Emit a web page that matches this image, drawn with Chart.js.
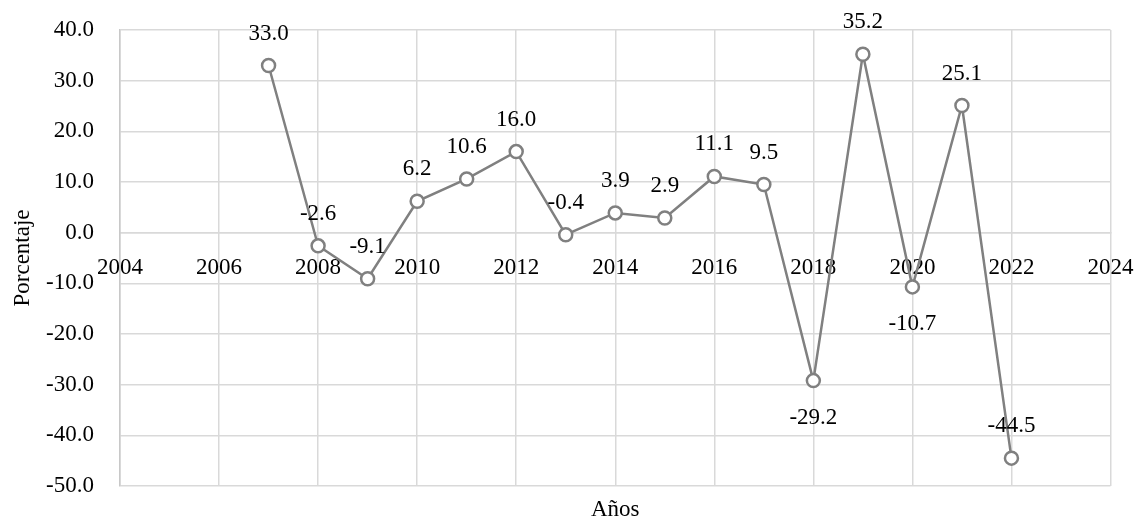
<!DOCTYPE html>
<html>
<head>
<meta charset="utf-8">
<script src="https://cdn.jsdelivr.net/npm/chart.js@4"></script>
<style>
  html, body { margin: 0; padding: 0; background: #fff; }
  #wrap { width: 1136px; height: 521px; }
</style>
</head>
<body>
<div id="wrap"><canvas id="growthChart" width="1136" height="521"></canvas></div>
<script>
// values
var years = [2007, 2008, 2009, 2010, 2011, 2012, 2013, 2014, 2015, 2016, 2017, 2018, 2019, 2020, 2021, 2022];
var values = [33.0, -2.6, -9.1, 6.2, 10.6, 16.0, -0.4, 3.9, 2.9, 11.1, 9.5, -29.2, 35.2, -10.7, 25.1, -44.5];
var labelsBelow = [2018, 2020]; // data labels drawn under the marker
var yTicks = { min: -50, max: 40, step: 10 };
var xTicks = { min: 2004, max: 2024, step: 2 };

var fontFamily = '"Liberation Serif", "Times New Roman", serif';
var gridColor = '#d9d9d9';
var lineColor = '#808080';

// draws the value above (or below) every point
var pointLabels = {
    id: 'pointLabels',
    afterDatasetsDraw: function (chart) {
        var ctx = chart.ctx;
        var meta = chart.getDatasetMeta(0);
        ctx.save();
        ctx.font = '23px ' + fontFamily;
        ctx.fillStyle = '#000';
        ctx.textAlign = 'center';
        ctx.textBaseline = 'middle';
        meta.data.forEach(function (pt, i) {
            var below = labelsBelow.indexOf(years[i]) >= 0;
            var y = below ? pt.y + 37 : pt.y - 32;
            ctx.fillText(values[i].toFixed(1), pt.x, y);
        });
        ctx.restore();
    }
};

var ctx = document.getElementById('growthChart').getContext('2d');
var growthChart = new Chart(ctx, {
    type: 'line',
    data: {
        datasets: [{
            data: years.map(function (y, i) { return { x: y, y: values[i] }; }),
            borderColor: lineColor,
            borderWidth: 2.5,
            pointRadius: 6.5,
            pointBorderWidth: 2.5,
            pointBackgroundColor: '#fff',
            pointBorderColor: lineColor,
            tension: 0
        }]
    },
    options: {
        responsive: false,
        animation: false,
        layout: { padding: { top: 30, right: 25.5, left: 0, bottom: 0 } },
        plugins: {
            legend: { display: false },
            tooltip: { enabled: false },
            title: {
                display: true,
                position: 'bottom',
                fullSize: false,
                text: 'Años',
                color: '#000',
                font: { family: fontFamily, size: 23, weight: 'normal', lineHeight: 1 },
                padding: { top: 12, bottom: 0 }
            }
        },
        scales: {
            x: {
                type: 'linear',
                position: { y: 0 },
                min: xTicks.min,
                max: xTicks.max,
                grid: { color: gridColor, lineWidth: 1.5, drawTicks: true, tickLength: 21, tickColor: 'rgba(0,0,0,0)' },
                border: { color: gridColor, width: 1.5 },
                ticks: {
                    stepSize: xTicks.step,
                    padding: 0,
                    color: '#000',
                    maxRotation: 0,
                    font: { family: fontFamily, size: 23 },
                    callback: function (v) { return String(v); }
                }
            },
            y: {
                min: yTicks.min,
                max: yTicks.max,
                grid: { color: gridColor, lineWidth: 1.5, drawTicks: true, tickLength: 26, tickColor: 'rgba(0,0,0,0)' },
                border: { color: '#c8c8c8', width: 1.5 },
                ticks: {
                    stepSize: yTicks.step,
                    padding: 0,
                    color: '#000',
                    font: { family: fontFamily, size: 23 },
                    callback: function (v) { return v.toFixed(1); }
                },
                title: {
                    display: true,
                    text: 'Porcentaje',
                    color: '#000',
                    font: { family: fontFamily, size: 23 },
                    padding: { top: 9, bottom: 0 }
                },
                afterFit: function (scale) { scale.width = 120; }
            }
        }
    },
    plugins: [pointLabels]
});
</script>
</body>
</html>
